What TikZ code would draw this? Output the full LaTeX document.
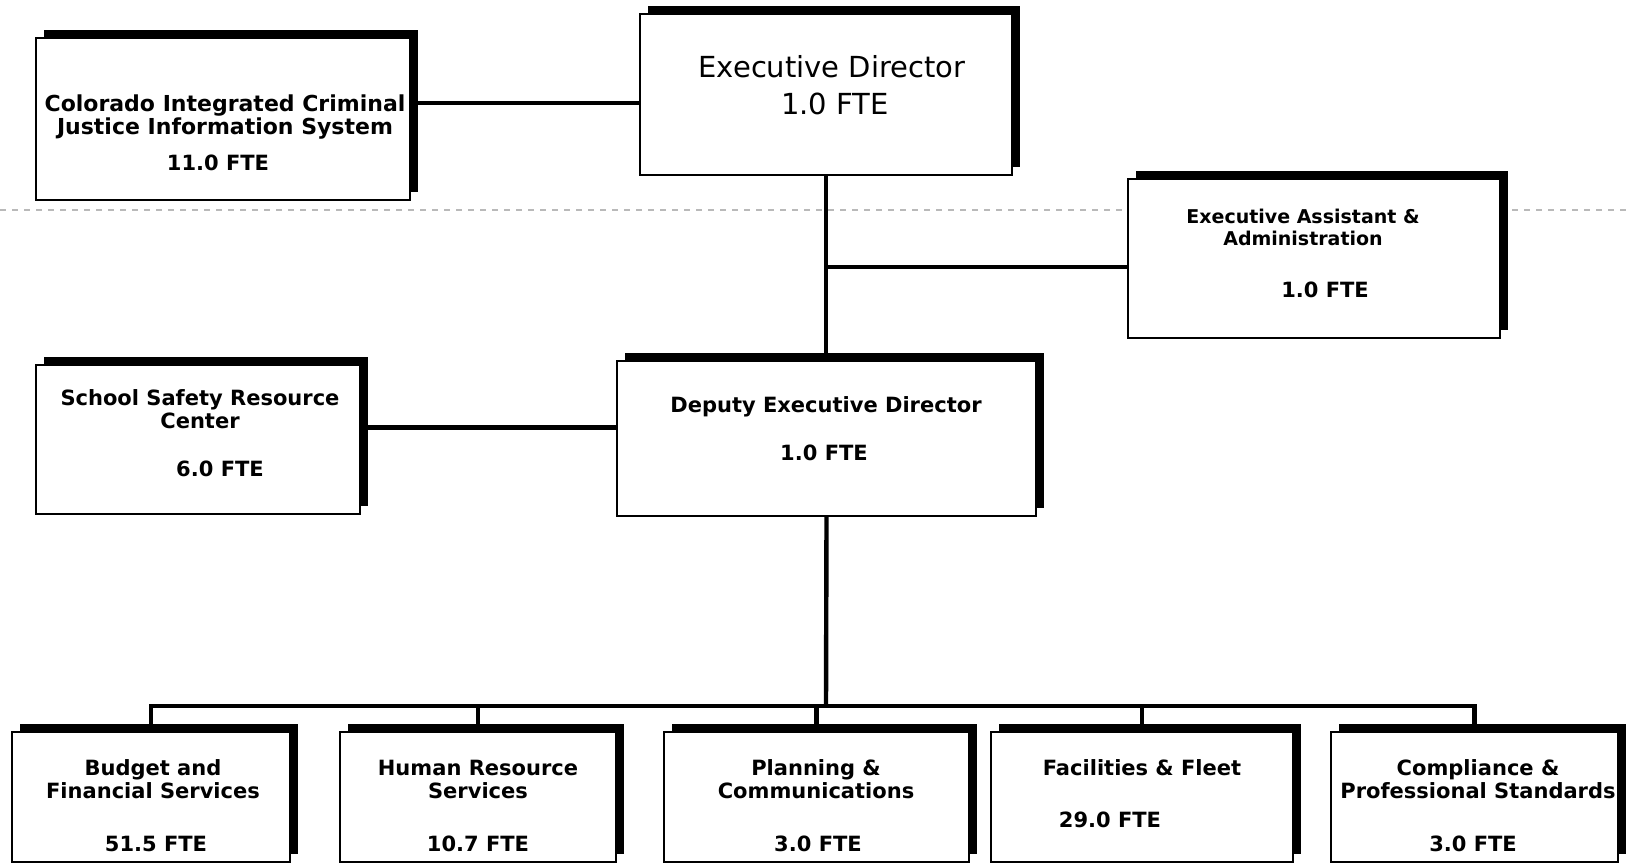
\documentclass[tikz,border=0pt]{standalone}
\usepackage{fontspec}
\setmainfont{DejaVu Sans}
\usetikzlibrary{shadows}

\tikzset{
  unit/.style={draw=black, line width=1pt, fill=white, rectangle, inner sep=0pt,
    general shadow={fill=black, shadow xshift=4pt, shadow yshift=4pt}},
  link/.style={line width=2.2pt},
  title/.style={align=center, inner sep=0pt, font=\bfseries\fontsize{10.5}{11.5}\selectfont},
  fte/.style={inner sep=0pt, font=\bfseries\fontsize{10.5}{11.5}\selectfont},
  big/.style={inner sep=0pt, font=\fontsize{14.5}{16}\selectfont},
}

\begin{document}
\begin{tikzpicture}[x=0.5pt, y=-0.5pt]
        \useasboundingbox (0,0) rectangle (1627,865);

        % fold line of the scan
        \draw[gray!55, dashed, line width=0.7pt] (0,210) -- (1627,210);

        % boxes
        \node[unit, minimum width=187pt, minimum height=81pt] (cicjis) at (223,119) {};
        \node[unit, minimum width=186pt, minimum height=80.5pt] (exec) at (826,94.5) {};
        \node[unit, minimum width=186pt, minimum height=79.5pt] (asst) at (1314,258.5) {};
        \node[unit, minimum width=162pt, minimum height=74.5pt] (school) at (198,439.5) {};
        \node[unit, minimum width=209.5pt, minimum height=77.5pt] (deputy) at (826.5,438.5) {};
        \node[unit, minimum width=139pt, minimum height=65pt] (budget) at (151,797) {};
        \node[unit, minimum width=138pt, minimum height=65pt] (hr) at (478,797) {};
        \node[unit, minimum width=152.5pt, minimum height=65pt] (plan) at (816.5,797) {};
        \node[unit, minimum width=151pt, minimum height=65pt] (fleet) at (1142,797) {};
        \node[unit, minimum width=143.5pt, minimum height=65pt] (compl) at (1474.5,797) {};

        % texts
        \node[title, font=\bfseries\fontsize{11}{11.5}\selectfont] (cicjisT) at (225,117.5) {Colorado Integrated Criminal\\Justice Information System};
        \node[fte] (cicjisF) at (218,163) {11.0 FTE};
        \node[big] (execT) at (832,67) {Executive Director};
        \node[big] (execF) at (835,104) {1.0 FTE};
        \node[title, font=\bfseries\fontsize{9.5}{11}\selectfont] (asstT) at (1303,227) {Executive Assistant \&\\Administration};
        \node[fte] (asstF) at (1325,290) {1.0 FTE};
        \node[title] (schoolT) at (200,409) {School Safety Resource\\Center};
        \node[fte] (schoolF) at (220,469) {6.0 FTE};
        \node[title] (deputyT) at (826,407) {Deputy Executive Director};
        \node[fte] (deputyF) at (824,453) {1.0 FTE};
        \node[title] (budgetT) at (153,779.5) {Budget and\\Financial Services};
        \node[fte] (budgetF) at (156,844) {51.5 FTE};
        \node[title] (hrT) at (478,779.5) {Human Resource\\Services};
        \node[fte] (hrF) at (478,844) {10.7 FTE};
        \node[title] (planT) at (816,779.5) {Planning \&\\Communications};
        \node[fte] (planF) at (818,844) {3.0 FTE};
        \node[title] (fleetT) at (1142,768) {Facilities \& Fleet};
        \node[fte] (fleetF) at (1110,820) {29.0 FTE};
        \node[title] (complT) at (1478,779.5) {Compliance \&\\Professional Standards};
        \node[fte] (complF) at (1473,844) {3.0 FTE};

        % lines
        \draw[link] ([yshift=8pt]cicjis.east) -- ([yshift=8pt]cicjis.east -| exec.west);
        \draw[link] (exec.south) -- (exec.south |- deputy.north);
        \coordinate (asstjoin) at (826,267);
        \draw[link] (asstjoin) -- (asstjoin -| asst.west);
        \draw[link] ([yshift=6pt]school.east) -- ([yshift=6pt]school.east -| deputy.west);
        \coordinate (bus) at (826,706);
        \draw[link] (deputy.south) -- (bus);
        \draw[link] (budget.north) -- (budget.north |- bus) -- (compl.north |- bus) -- (compl.north);
        \foreach \u in {hr,plan,fleet}
            \draw[link] (\u.north |- bus) -- (\u.north);

\end{tikzpicture}
\end{document}
